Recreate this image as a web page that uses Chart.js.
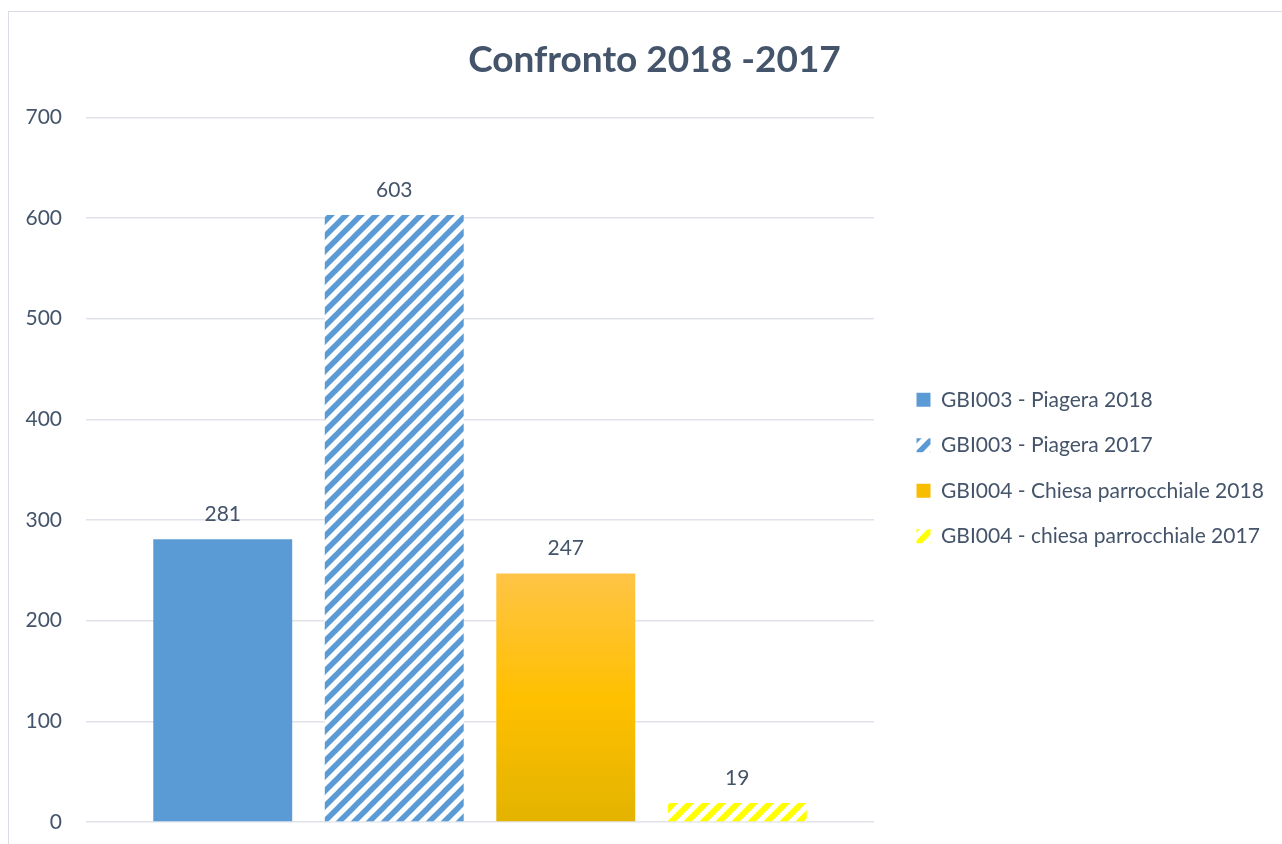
<!DOCTYPE html>
<html>
<head>
<meta charset="utf-8">
<script src="https://cdn.jsdelivr.net/npm/chart.js@4"></script>
<style>
  html, body { margin: 0; padding: 0; background: #ffffff; overflow: hidden; }
  #wrap { position: absolute; left: 8px; top: 11px; width: 1282px; height: 850px; border: 1px solid #d9dde3; }
  #c { display: block; }
</style>
</head>
<body>
<div id="wrap"><canvas id="c"></canvas></div>
<script>
// ---- data ----
const titleText = "Confronto 2018 -2017";
const categories = [""];
const seriesNames = [
  "GBI003 - Piagera 2018",
  "GBI003 - Piagera 2017",
  "GBI004 - Chiesa parrocchiale 2018",
  "GBI004 - chiesa parrocchiale 2017"
];
const piagera2018 = [281];
const piagera2017 = [603];
const chiesa2018 = [247];
const chiesa2017 = [19];
const yTicks = [0, 100, 200, 300, 400, 500, 600, 700];

// ---- styles ----
const textColor = "#44546a";
const fontFamily = "Lato, 'Open Sans', sans-serif";

function hatch(color, size, width) {
  const c = document.createElement("canvas");
  c.width = size; c.height = size;
  const g = c.getContext("2d");
  g.fillStyle = "#ffffff";
  g.fillRect(0, 0, size, size);
  g.strokeStyle = color;
  g.lineWidth = width;
  g.lineCap = "square";
  for (let k = -1; k <= 1; k++) {
    g.beginPath();
    g.moveTo(k * size, size);
    g.lineTo(k * size + size, 0);
    g.stroke();
  }
  return g.createPattern(c, "repeat");
}
const ctx = document.getElementById("c").getContext("2d");
const blueHatch = hatch("#5b9bd5", 15, 5.5);
const yellowHatch = hatch("#ffff00", 16, 6);

function goldGradient(context) {
  const chart = context.chart;
  const ys = chart.scales && chart.scales.y;
  if (!chart.chartArea || !ys || context.raw === undefined) return "#ffc000";
  const top = ys.getPixelForValue(context.raw);
  const bottom = ys.getPixelForValue(0);
  const g = chart.ctx.createLinearGradient(0, top, 0, bottom);
  g.addColorStop(0, "#ffc446");
  g.addColorStop(0.5, "#ffc000");
  g.addColorStop(1, "#e3b300");
  return g;
}

const dataLabels = {
  id: "dataLabels",
  afterDatasetsDraw(chart) {
    const c = chart.ctx;
    c.save();
    c.font = "21px " + fontFamily;
    c.fillStyle = textColor;
    c.textAlign = "center";
    c.textBaseline = "middle";
    chart.data.datasets.forEach((ds, i) => {
      const meta = chart.getDatasetMeta(i);
      meta.data.forEach((bar, j) => {
        c.fillText(String(ds.data[j]), bar.x, bar.y - 25);
      });
    });
    c.restore();
  }
};

const LEGEND_WIDTH = 417;
const legendFix = {
  id: "legendFix",
  beforeInit(chart) {
    const lg = chart.legend;
    if (lg && !lg._patched) {
      const fit = lg.fit;
      lg.fit = function () {
        fit.call(this);
        this.width = LEGEND_WIDTH;
      };
      lg._patched = true;
    }
  },
  afterLayout(chart) {
    if (chart.legend) {
      chart.legend.left += 18;
      chart.legend.right += 18;
      chart.legend.top += 51;
      chart.legend.bottom += 51;
    }
  }
};

new Chart(ctx, {
  type: "bar",
  data: {
    labels: categories,
    datasets: [
      { label: seriesNames[0], data: piagera2018, backgroundColor: "#5b9bd5" },
      { label: seriesNames[1], data: piagera2017, backgroundColor: blueHatch },
      { label: seriesNames[2], data: chiesa2018, backgroundColor: goldGradient },
      { label: seriesNames[3], data: chiesa2017, backgroundColor: yellowHatch }
    ]
  },
  options: {
    responsive: true,
    maintainAspectRatio: false,
    animation: false,
    devicePixelRatio: 1,
    categoryPercentage: 0.8706,
    barPercentage: 0.81,
    layout: { padding: { left: 9, right: 0, top: 0, bottom: 40 } },
    scales: {
      x: { display: false },
      y: {
        min: 0,
        max: 700,
        afterBuildTicks(scale) { scale.ticks = yTicks.map(v => ({ value: v })); },
        afterFit(scale) { scale.width = 68; },
        border: { display: false },
        grid: { color: "#dfe3e9", lineWidth: 1.5, drawTicks: false },
        ticks: {
          padding: 24,
          color: textColor,
          font: { family: fontFamily, size: 21 }
        }
      }
    },
    plugins: {
      title: {
        display: true,
        text: titleText,
        color: textColor,
        font: { family: fontFamily, size: 37, weight: "bold" },
        padding: { top: 26, bottom: 35 }
      },
      legend: {
        position: "right",
        align: "center",
        labels: {
          color: textColor,
          font: { family: fontFamily, size: 21 },
          boxWidth: 14,
          boxHeight: 14,
          padding: 24.5,
          generateLabels(chart) {
            const items = Chart.defaults.plugins.legend.labels.generateLabels(chart);
            items.forEach(it => { it.lineWidth = 0; it.strokeStyle = "rgba(0,0,0,0)"; });
            if (items[2]) items[2].fillStyle = "#f9bd00";
            return items;
          }
        }
      },
      tooltip: { enabled: false }
    }
  },
  plugins: [dataLabels, legendFix]
});
</script>
</body>
</html>
